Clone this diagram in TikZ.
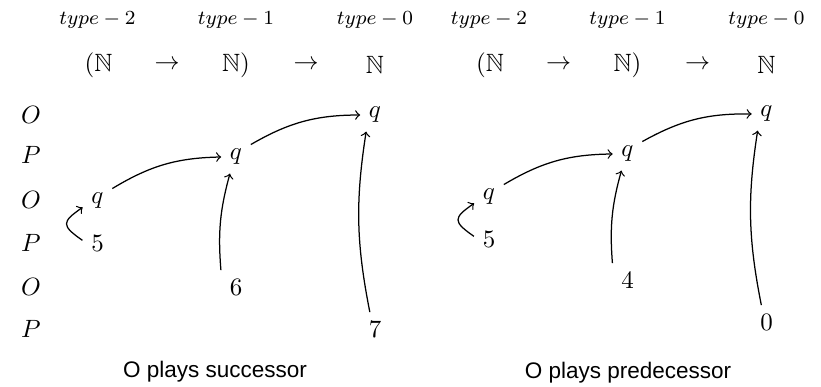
\documentclass[tikz,border=0pt]{standalone}
\usepackage{amssymb}
\usepackage{fontspec}
\newfontfamily\capfont{Liberation Sans}
\tikzset{
  lbl/.style={font=\normalsize},
  hdr/.style={font=\footnotesize},
  captext/.style={font=\capfont\fontsize{9}{11}\selectfont},
  arr/.style={->, line width=0.5pt},
}
\begin{document}
\begin{tikzpicture}[x=0.4pt,y=0.4pt]
\useasboundingbox (0,0) rectangle (821,387);
% row labels
\node[lbl] (r1) at (31,272) {$O$};
\node[lbl] (r2) at (31,232) {$P$};
\node[lbl] (r3) at (31,187) {$O$};
\node[lbl] (r4) at (31,144) {$P$};
\node[lbl] (r5) at (31,100) {$O$};
\node[lbl] (r6) at (31,58) {$P$};
% ---- left panel ----
\node[hdr] (lt2) at (97.5,367) {$type-2$};
\node[hdr] (lt1) at (236,367) {$type-1$};
\node[hdr] (lt0) at (375,367) {$type-0$};
\node[lbl] (ln1) at (98.5,322) {$(\mathbb{N}$};
\node[lbl] (la1) at (167,322) {$\rightarrow$};
\node[lbl] (ln2) at (236,322) {$\mathbb{N})$};
\node[lbl] (la2) at (306,322) {$\rightarrow$};
\node[lbl] (ln3) at (375,322) {$\mathbb{N}$};
\node[lbl] (lqt) at (375,272) {$q$};
\node[lbl] (lqm) at (236,230) {$q$};
\node[lbl] (lqb) at (97.5,186) {$q$};
\node[lbl] (l5) at (97.5,144) {$5$};
\node[lbl] (l6) at (236,100) {$6$};
\node[lbl] (l7) at (375,58) {$7$};
\draw[arr] (lqb.40) to[bend left=15] (lqm.west);
\draw[arr] (lqm.40) to[bend left=15] (lqt.west);
\draw[arr] (l6.north west) to[bend left=10] (lqm.250);
\draw[arr] (l7.107) to[bend left=10] (lqt.242);
\draw[arr] (l5.170) to[out=145,in=215,looseness=2] (lqb.203);
\node[captext] (lcap) at (215,15) {O plays successor};
% ---- right panel ----
\node[hdr] (rt2) at (489,367) {$type-2$};
\node[hdr] (rt1) at (627.5,367) {$type-1$};
\node[hdr] (rt0) at (766.5,367) {$type-0$};
\node[lbl] (rn1) at (490,322) {$(\mathbb{N}$};
\node[lbl] (ra1) at (558.5,322) {$\rightarrow$};
\node[lbl] (rn2) at (627.5,322) {$\mathbb{N})$};
\node[lbl] (ra2) at (697.5,322) {$\rightarrow$};
\node[lbl] (rn3) at (766.5,322) {$\mathbb{N}$};
\node[lbl] (rqt) at (766.5,273) {$q$};
\node[lbl] (rqm) at (627.5,233) {$q$};
\node[lbl] (rqb) at (489,190) {$q$};
\node[lbl] (r5n) at (489,148) {$5$};
\node[lbl] (r4n) at (627.5,107) {$4$};
\node[lbl] (r0n) at (766.5,65) {$0$};
\draw[arr] (rqb.40) to[bend left=15] (rqm.west);
\draw[arr] (rqm.40) to[bend left=15] (rqt.west);
\draw[arr] (r4n.north west) to[bend left=10] (rqm.250);
\draw[arr] (r0n.107) to[bend left=10] (rqt.242);
\draw[arr] (r5n.170) to[out=145,in=215,looseness=2] (rqb.203);
\node[captext] (rcap) at (628,14) {O plays predecessor};
\end{tikzpicture}
\end{document}
